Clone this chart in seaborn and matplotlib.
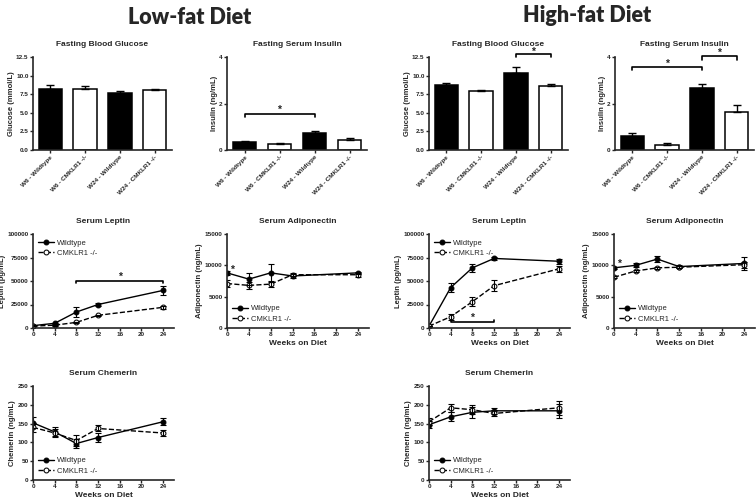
import numpy as np
import matplotlib
matplotlib.use('Agg')
import matplotlib.pyplot as plt
import seaborn as sns

# ---- data ----
bar_labels = ['W6 - Wildtype', 'W6 - CMKLR1 -/-', 'W24 - Wildtype', 'W24 - CMKLR1 -/-']
bar_colors = ['black', 'white', 'black', 'white']

lf_glucose = [8.2, 8.2, 7.6, 8.0]
lf_glucose_sem = [0.55, 0.4, 0.3, 0.15]
lf_insulin = [0.33, 0.25, 0.72, 0.45]
lf_insulin_sem = [0.07, 0.04, 0.1, 0.08]
hf_glucose = [8.8, 7.9, 10.3, 8.6]
hf_glucose_sem = [0.2, 0.2, 0.8, 0.25]
hf_insulin = [0.6, 0.22, 2.68, 1.62]
hf_insulin_sem = [0.15, 0.06, 0.17, 0.33]

weeks = [0, 4, 8, 12, 24]

lf_leptin_wt = [2500, 5000, 17000, 25000, 40000]
lf_leptin_wt_sem = [500, 800, 5000, 2000, 4500]
lf_leptin_ko = [2000, 3000, 6000, 13500, 22000]
lf_leptin_ko_sem = [400, 500, 800, 800, 1500]

lf_adipo_wt = [8800, 7800, 8800, 8300, 8800]
lf_adipo_wt_sem = [300, 900, 1400, 300, 200]
lf_adipo_ko = [7100, 6800, 7000, 8500, 8500]
lf_adipo_ko_sem = [500, 500, 500, 200, 300]

hf_leptin_wt = [2000, 43000, 64000, 74000, 71000]
hf_leptin_wt_sem = [500, 5000, 4000, 2000, 2500]
hf_leptin_ko = [2000, 12000, 28000, 45000, 63000]
hf_leptin_ko_sem = [400, 3000, 5000, 6000, 3000]

hf_adipo_wt = [9600, 10000, 11000, 9800, 10300]
hf_adipo_wt_sem = [200, 300, 500, 200, 1000]
hf_adipo_ko = [8100, 9100, 9600, 9700, 10100]
hf_adipo_ko_sem = [200, 200, 200, 200, 500]

lf_chem_wt = [152, 128, 97, 113, 155]
lf_chem_wt_sem = [15, 12, 12, 12, 10]
lf_chem_ko = [140, 125, 105, 137, 125]
lf_chem_ko_sem = [12, 10, 15, 8, 8]

hf_chem_wt = [147, 168, 180, 184, 184]
hf_chem_wt_sem = [10, 12, 15, 8, 18]
hf_chem_ko = [155, 192, 187, 177, 192]
hf_chem_ko_sem = [10, 10, 12, 8, 18]

# ---- style ----
sns.set_style('ticks')
plt.rcParams['font.family'] = ['Liberation Sans', 'DejaVu Sans']
plt.rcParams['font.weight'] = 'bold'
plt.rcParams['axes.labelweight'] = 'bold'
plt.rcParams['axes.titleweight'] = 'bold'

W, H = 756, 503
fig = plt.figure(figsize=(W / 100, H / 100), dpi=100)


def px_axes(left, top, width, height):
    return fig.add_axes([left / W, (H - top - height) / H, width / W, height / H])


def style_axes(ax):
    sns.despine(ax=ax)
    for s in ['left', 'bottom']:
        ax.spines[s].set_linewidth(1.2)
    ax.tick_params(labelsize=4.6, width=1.0, length=2.2, pad=1)
    for lbl in ax.get_xticklabels() + ax.get_yticklabels():
        lbl.set_fontweight('bold')


def bar_panel(ax, vals, sems, title, ylabel, ymax, yticks, yfmt):
    sns.barplot(x=bar_labels, y=vals, hue=bar_labels, palette=bar_colors,
                edgecolor='black', linewidth=1.1, width=0.68, legend=False,
                errorbar=None, ax=ax)
    ax.errorbar(range(4), vals, yerr=[np.zeros(4), sems], fmt='none',
                ecolor='black', elinewidth=1.0, capsize=3, capthick=1.0)
    ax.set_xlim(-0.5, 3.5)
    ax.set_ylim(0, ymax)
    ax.set_yticks(yticks)
    ax.set_yticklabels([yfmt.format(t) for t in yticks])
    ax.set_xticks(range(4))
    ax.set_xticklabels(bar_labels, rotation=45, ha='right', rotation_mode='anchor')
    ax.set_title(title, fontsize=6, pad=8)
    ax.set_ylabel(ylabel, fontsize=5.5, labelpad=1)
    ax.set_xlabel('')
    style_axes(ax)


def bracket(ax, x0, x1, y, h, star_y):
    ax.plot([x0, x0, x1, x1], [y - h, y, y, y - h], color='black', lw=1.2,
            clip_on=False)
    ax.text((x0 + x1) / 2, star_y, '*', ha='center', va='center', fontsize=7.5,
            fontweight='bold', clip_on=False)


def line_panel(ax, wt, wt_sem, ko, ko_sem, title, ylabel, ymax, yticks,
               legend_loc, xlabel=True):
    sns.lineplot(x=weeks, y=wt, color='black', marker='o', markersize=3.5,
                 markeredgecolor='black', linewidth=1.0, label='Wildtype', ax=ax)
    sns.lineplot(x=weeks, y=ko, color='black', marker='o', markersize=3.5,
                 markerfacecolor='white', markeredgecolor='black',
                 linestyle='--', linewidth=1.0, label='CMKLR1 -/-', ax=ax)
    ax.errorbar(weeks, wt, yerr=wt_sem, fmt='none', ecolor='black',
                elinewidth=0.8, capsize=2.5, capthick=0.8)
    ax.errorbar(weeks, ko, yerr=ko_sem, fmt='none', ecolor='black',
                elinewidth=0.8, capsize=2.5, capthick=0.8)
    ax.set_xlim(0, 26)
    ax.set_xticks([0, 4, 8, 12, 16, 20, 24])
    ax.set_ylim(0, ymax)
    ax.set_yticks(yticks)
    ax.set_title(title, fontsize=6, pad=8)
    ax.set_ylabel(ylabel, fontsize=5.5, labelpad=1)
    ax.set_xlabel('Weeks on Diet' if xlabel else '', fontsize=6, labelpad=2)
    leg = ax.legend(loc=legend_loc, frameon=False, fontsize=5.5,
                    handlelength=2.0, handletextpad=0.4, labelspacing=0.4,
                    borderaxespad=0.3)
    for t in leg.get_texts():
        t.set_fontweight('normal')
    style_axes(ax)


# ---- row 1: bar charts ----
ax = px_axes(33, 57, 139, 93)
bar_panel(ax, lf_glucose, lf_glucose_sem, 'Fasting Blood Glucose',
          'Glucose (mmol/L)', 12.5, [0, 2.5, 5, 7.5, 10, 12.5], '{:.1f}')

ax = px_axes(227, 57, 140, 93)
bar_panel(ax, lf_insulin, lf_insulin_sem, 'Fasting Serum Insulin',
          'Insulin (ng/mL)', 4, [0, 2, 4], '{:.0f}')
bracket(ax, 0, 2, 1.55, 0.12, 1.72)

ax = px_axes(429, 57, 139, 93)
bar_panel(ax, hf_glucose, hf_glucose_sem, 'Fasting Blood Glucose',
          'Glucose (mmol/L)', 12.5, [0, 2.5, 5, 7.5, 10, 12.5], '{:.1f}')
bracket(ax, 2, 3, 12.85, 0.35, 13.15)

ax = px_axes(615, 57, 139, 93)
bar_panel(ax, hf_insulin, hf_insulin_sem, 'Fasting Serum Insulin',
          'Insulin (ng/mL)', 4, [0, 2, 4], '{:.0f}')
bracket(ax, 0, 2, 3.57, 0.15, 3.72)
bracket(ax, 2, 3, 4.03, 0.15, 4.17)

# ---- row 2: leptin / adiponectin ----
ax = px_axes(33, 234, 141, 94)
line_panel(ax, lf_leptin_wt, lf_leptin_wt_sem, lf_leptin_ko, lf_leptin_ko_sem,
           'Serum Leptin', 'Leptin (pg/mL)', 100000,
           [0, 25000, 50000, 75000, 100000], 'upper left', xlabel=False)
bracket(ax, 8, 24, 50000, 2500, 54500)

ax = px_axes(227, 234, 142, 94)
line_panel(ax, lf_adipo_wt, lf_adipo_wt_sem, lf_adipo_ko, lf_adipo_ko_sem,
           'Serum Adiponectin', 'Adiponectin (ng/mL)', 15000,
           [0, 5000, 10000, 15000], 'lower left', xlabel=True)
ax.text(1.0, 9300, '*', ha='center', va='center', fontsize=7.5)

ax = px_axes(429, 234, 141, 94)
line_panel(ax, hf_leptin_wt, hf_leptin_wt_sem, hf_leptin_ko, hf_leptin_ko_sem,
           'Serum Leptin', 'Leptin (pg/mL)', 100000,
           [0, 25000, 50000, 75000, 100000], 'upper left', xlabel=True)
bracket(ax, 4, 12, 6000, -2500, 10500)

ax = px_axes(614, 234, 141, 94)
line_panel(ax, hf_adipo_wt, hf_adipo_wt_sem, hf_adipo_ko, hf_adipo_ko_sem,
           'Serum Adiponectin', 'Adiponectin (ng/mL)', 15000,
           [0, 5000, 10000, 15000], 'lower left', xlabel=True)
ax.text(1.0, 10300, '*', ha='center', va='center', fontsize=7.5)

# ---- row 3: chemerin ----
ax = px_axes(33, 386, 141, 94)
line_panel(ax, lf_chem_wt, lf_chem_wt_sem, lf_chem_ko, lf_chem_ko_sem,
           'Serum Chemerin', 'Chemerin (ng/mL)', 250,
           [0, 50, 100, 150, 200, 250], 'lower left', xlabel=True)

ax = px_axes(429, 386, 141, 94)
line_panel(ax, hf_chem_wt, hf_chem_wt_sem, hf_chem_ko, hf_chem_ko_sem,
           'Serum Chemerin', 'Chemerin (ng/mL)', 250,
           [0, 50, 100, 150, 200, 250], 'lower left', xlabel=True)

# ---- diet headers ----
fig.text(190 / W, 1 - 18 / H, 'Low-fat Diet', ha='center', va='center',
         fontsize=15.5, fontweight='heavy', family=['Lato', 'DejaVu Sans'])
fig.text(587 / W, 1 - 15 / H, 'High-fat Diet', ha='center', va='center',
         fontsize=15.5, fontweight='heavy', family=['Lato', 'DejaVu Sans'])

fig.savefig('out.png', dpi=100, facecolor='white')
